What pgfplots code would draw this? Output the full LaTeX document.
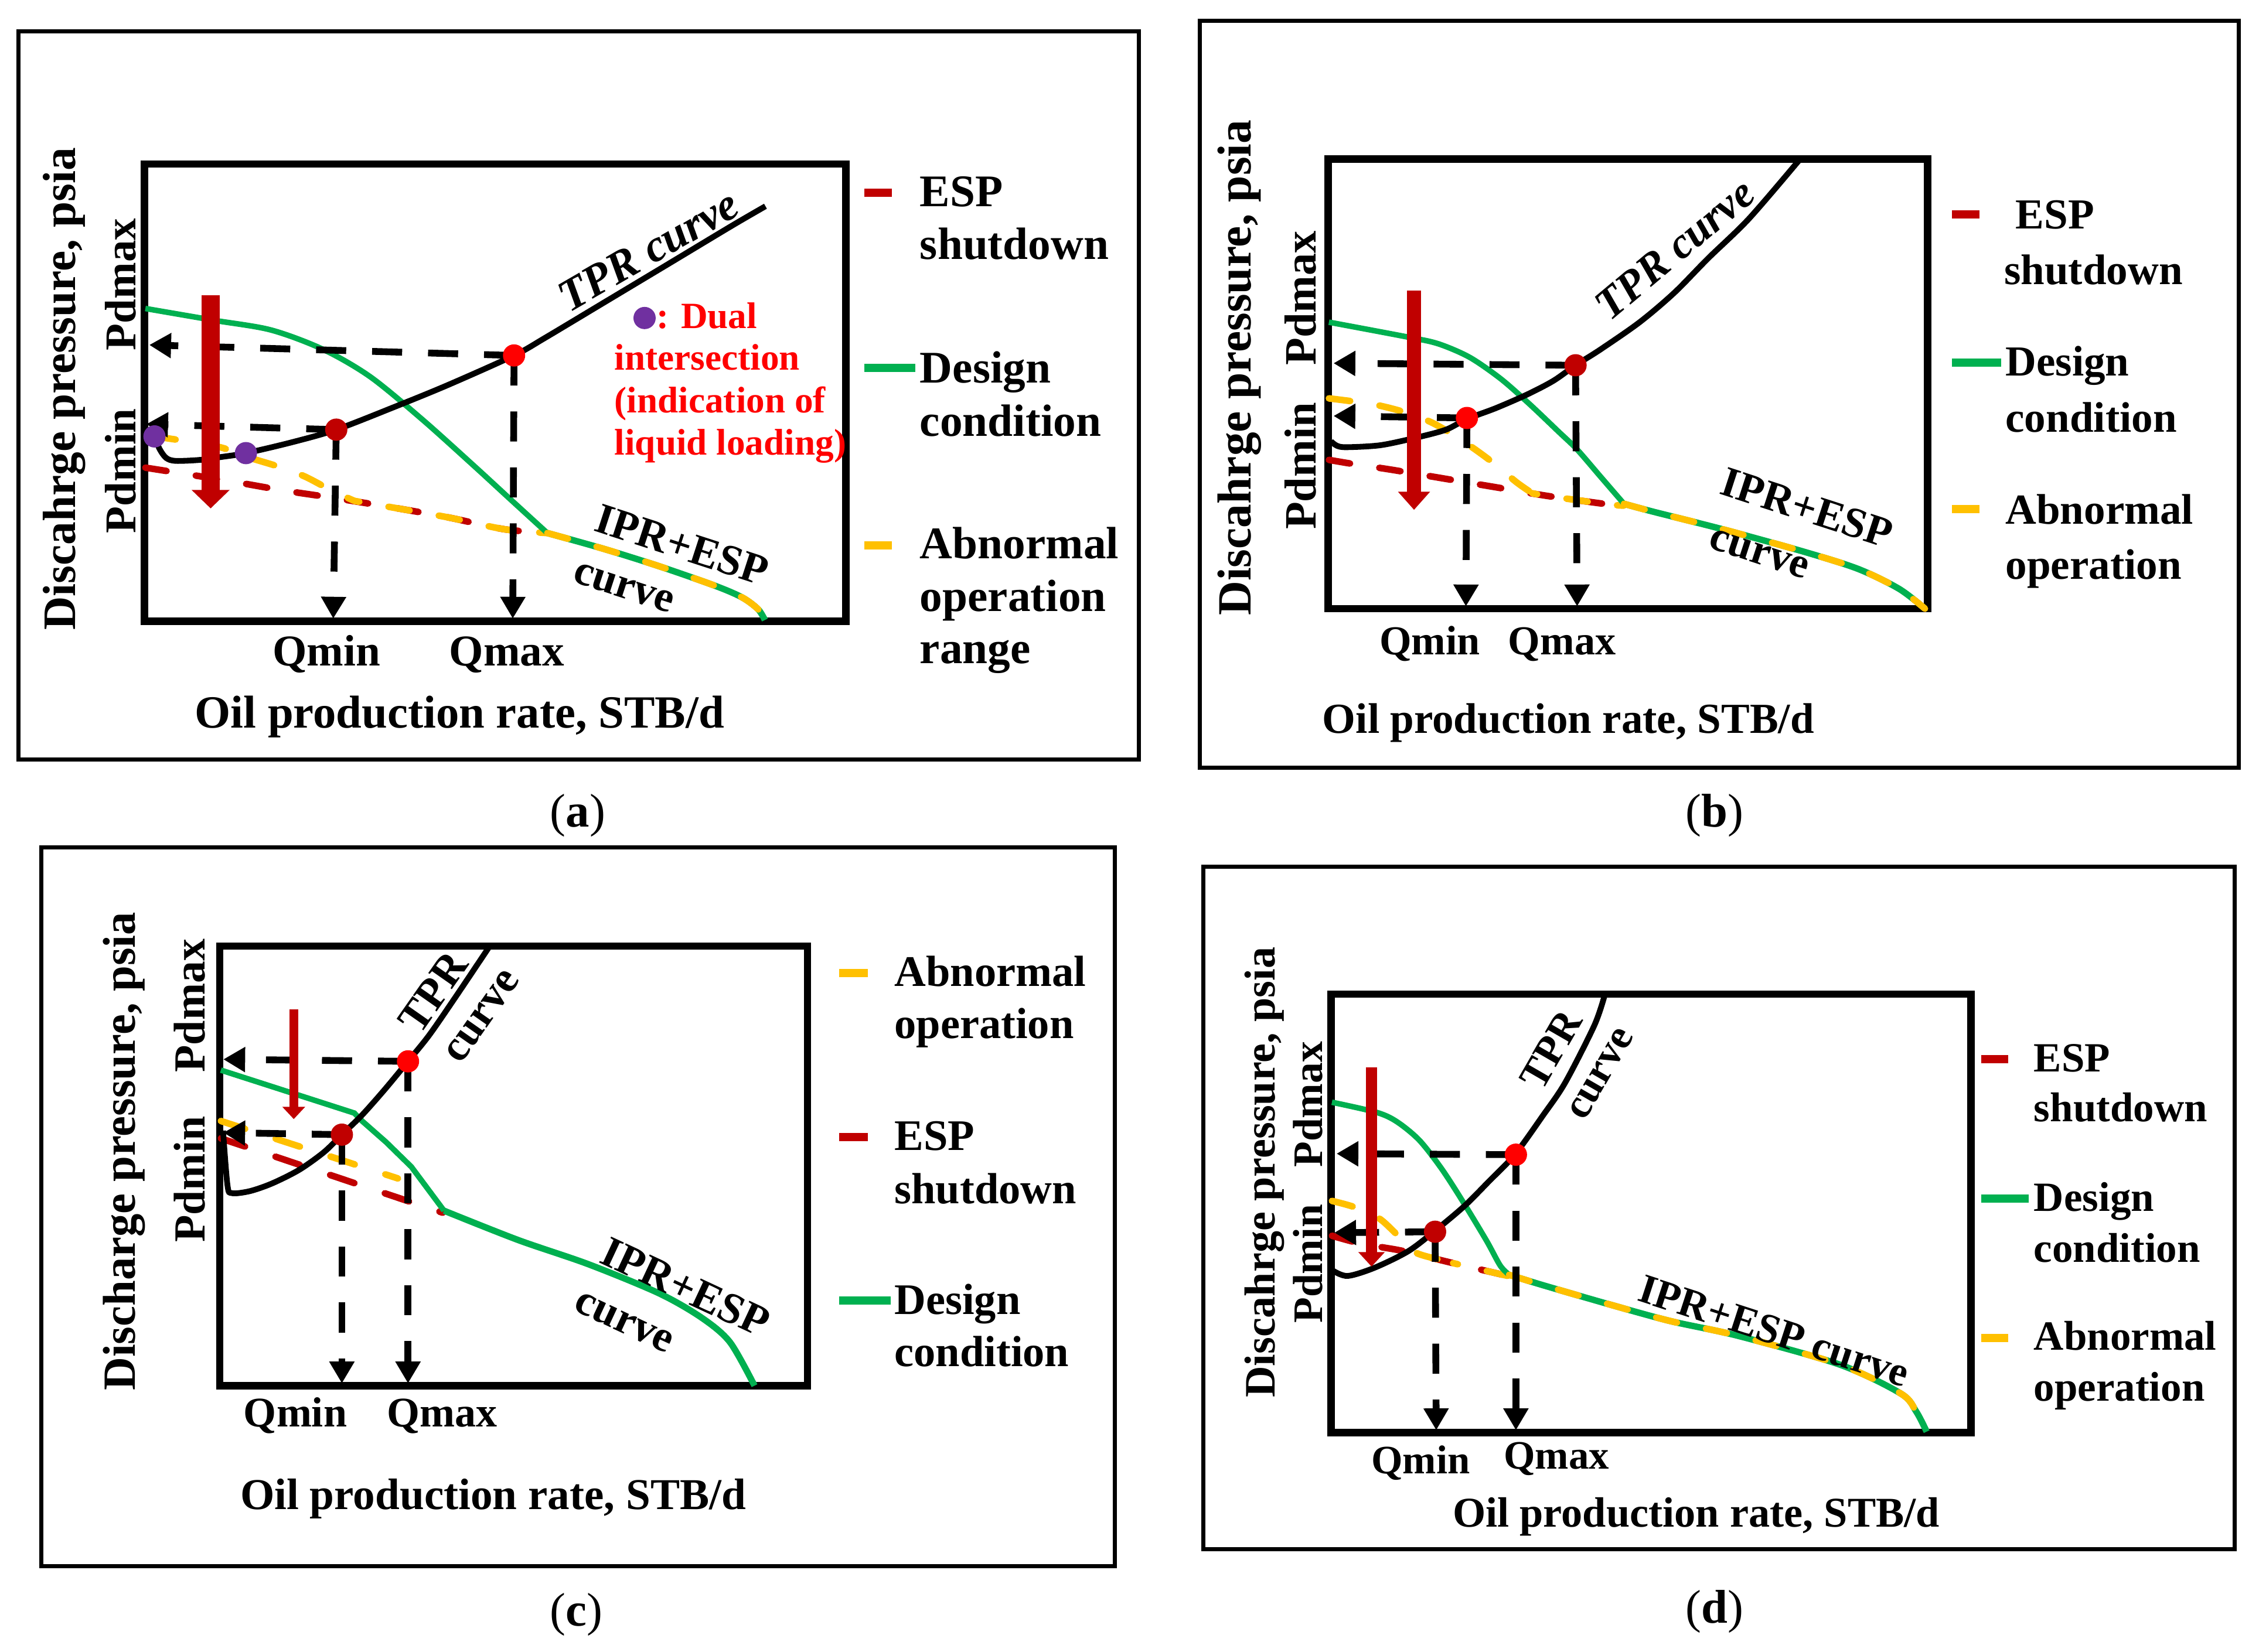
\documentclass[border=0pt]{standalone}
\usepackage{fontspec}
\setmainfont{Liberation Serif}
\usepackage{pgfplots}
\pgfplotsset{compat=1.18}
\usetikzlibrary{arrows.meta}
\definecolor{cgreen}{HTML}{00B050}
\definecolor{cgold}{HTML}{FFC000}
\definecolor{cdred}{HTML}{C00000}
\definecolor{cpurple}{HTML}{7030A0}
\definecolor{cred}{HTML}{FF0000}
\newcommand{\T}[1]{\fontsize{#1}{#1}\selectfont\bfseries}
\tikzset{lab/.style={inner sep=0pt}}
\pgfplotsset{
  schem/.style={scale only axis, clip=false, anchor=south west,
    axis line style={line width=1.8pt}, xtick=\empty, ytick=\empty},
  dashy/.style={line width=1.6pt, dash pattern=on 5.2pt off 7.2pt, line cap=round},
  darr/.style={black, line width=1.65pt, dash pattern=on 7.3pt off 6.3pt, -{Triangle[length=5.3pt,width=5.8pt]}},
  tpr/.style={black, line width=1.4pt, smooth},
  des/.style={cgreen, line width=1.35pt, smooth},
  ipr/.style={cgreen, line width=1.55pt, smooth},
  leg/.style={line width=2pt},
  dot/.style={only marks, mark=*, mark size=2.5pt},
}
\begin{document}
\begin{tikzpicture}
\useasboundingbox (0,0) rectangle (548.8pt,-401.45pt);

%================ (a) =================
\begin{axis}[schem, at={(35.07pt,-150.955pt)}, width=170.45pt, height=111.09pt,
  xmin=100.2, xmax=587.2, ymin=-431.3, ymax=-113.9]
\draw[line width=1pt] (axis cs:12.7,-21.7) rectangle (axis cs:790.6,-527.2);
\addplot[cdred, dashy, smooth] coordinates {(100.9,-324.7) (157,-333.6) (195.3,-340.3) (231.4,-345.7) (273.3,-352.5) (311.4,-359.3) (349.6,-367.4) (379.9,-370.1)};
\addplot[cgold, dashy, smooth] coordinates {(107.2,-303) (139,-307.8) (155.3,-311.2) (171.6,-317.3) (193.4,-324) (211.5,-330.8) (229.7,-340.3) (246,-347.8)};
\addplot[cgold, dashy, smooth, dash phase=4pt] coordinates {(246,-347.8) (273.3,-352.5) (311.4,-359.3) (349.6,-367.4) (379.9,-370.1)};
\addplot[des] coordinates {(100.9,-214.2) (148,-222.3) (188,-229.1) (224.3,-242.6) (257,-261.6) (293.3,-291.4) (329.6,-324) (353.2,-345.7) (379.9,-370.1)};
\addplot[ipr] coordinates {(379.9,-370.1) (418.8,-381) (457.7,-393.2) (496.6,-406.8) (515.3,-414.9) (526.2,-423) (530.9,-430.5)};
\addplot[cgold, dashy, smooth] coordinates {(379.9,-370.1) (418.8,-381) (457.7,-393.2) (496.6,-406.8) (515.3,-414.9) (526.2,-423) (530.9,-430.5)};
\addplot[tpr] coordinates {(107.2,-303) (110.8,-311.8) (115.4,-318) (122,-320) (139,-319.3) (153.5,-317.3) (170.7,-314.6) (202.5,-307.1) (233.4,-298.3) (275.1,-282) (311.4,-267.1) (356.8,-246.8) (378.3,-234.6) (420,-209.6) (465,-182.6) (508.4,-156.5) (531.3,-143.2)};
\addplot[darr] coordinates {(356.8,-246.8) (103.6,-239.5)};
\addplot[darr] coordinates {(233.4,-298.3) (101.5,-294.5)};
\addplot[darr] coordinates {(233.4,-298.3) (231.3,-429.5)};
\addplot[darr] coordinates {(356.8,-246.8) (355.9,-429.5)};
\addplot[cdred, line width=4.4pt, -{Triangle[length=4.5pt,width=9pt]}] coordinates {(146.2,-205.1) (146.2,-353)};
\addplot[dot, cpurple] coordinates {(107.2,-303) (170.7,-314.6) (447.4,-220.8)};
\addplot[dot, cdred] coordinates {(233.4,-298.3)};
\addplot[dot, cred] coordinates {(356.8,-246.8)};
% legend
\addplot[leg, cdred] coordinates {(600,-133.9) (619,-133.9)};
\addplot[leg, cgreen] coordinates {(600,-255.3) (635.5,-255.3)};
\addplot[leg, cgold] coordinates {(600,-378.5) (619,-378.5)};
\node[lab, anchor=base west, font=\T{11}] at (axis cs:638,-143.2) {ESP};
\node[lab, anchor=base west, font=\T{11}] at (axis cs:638,-180) {shutdown};
\node[lab, anchor=base west, font=\T{11}] at (axis cs:638,-265.7) {Design};
\node[lab, anchor=base west, font=\T{11}] at (axis cs:638,-303) {condition};
\node[lab, anchor=base west, font=\T{11}] at (axis cs:638,-388) {Abnormal};
\node[lab, anchor=base west, font=\T{11}] at (axis cs:638,-424.4) {operation};
\node[lab, anchor=base west, font=\T{11}] at (axis cs:638,-460.6) {range};
% labels
\node[lab, anchor=base, font=\T{10.7}] at (axis cs:226.7,-462.3) {Qmin};
\node[lab, anchor=base, font=\T{10.7}] at (axis cs:351.8,-462.3) {Qmax};
\node[lab, anchor=base, font=\T{11.2}] at (axis cs:319,-505.4) {Oil production rate, STB/d};
\node[lab, anchor=base, rotate=90, font=\T{11.3}] at (axis cs:52.4,-270) {Discahrge pressure, psia};
\node[lab, anchor=base, rotate=90, font=\T{10.7}] at (axis cs:94,-197.5) {Pdmax};
\node[lab, anchor=base, rotate=90, font=\T{10.7}] at (axis cs:94,-326.9) {Pdmin};
\node[lab, rotate=30, font=\T{11}\itshape] at (axis cs:450,-174) {TPR curve};
\node[lab, rotate=-18, font=\T{10.5}] at (axis cs:473.3,-378.3) {IPR+ESP};
\node[lab, rotate=-18, font=\T{10.5}] at (axis cs:432.8,-408.1) {curve};
\node[lab, anchor=base west, text=cred, font=\T{9}] at (axis cs:455,-228) {: Dual};
\node[lab, anchor=base west, text=cred, font=\T{9}] at (axis cs:426,-257) {intersection};
\node[lab, anchor=base west, text=cred, font=\T{9}] at (axis cs:426,-286.5) {(indication of};
\node[lab, anchor=base west, text=cred, font=\T{9}] at (axis cs:426,-316) {liquid loading)};
\node[lab, anchor=base, font=\fontsize{11.5}{11.5}\selectfont] at (axis cs:401,-574) {(\textbf{a})};
\end{axis}

%================ (b) =================
\begin{axis}[schem, at={(322.63pt,-147.91pt)}, width=145.67pt, height=109.27pt,
  xmin=921.8, xmax=1338, ymin=-422.6, ymax=-110.4]
\draw[line width=1pt] (axis cs:832.8,-14.5) rectangle (axis cs:1553.9,-533);
\addplot[cdred, dashy, smooth] coordinates {(922.4,-319.3) (938.3,-322) (965.6,-326.1) (1001.9,-332.2) (1038.2,-338.3) (1074.5,-344.4) (1116.3,-350.2) (1127.2,-351)};
\addplot[cgold, dashy, smooth] coordinates {(922.4,-276.6) (938.3,-278.6) (956.5,-281.4) (974.7,-286.1) (992.8,-292.9) (1007.3,-301) (1023.7,-311.9) (1038.2,-322.7) (1052.7,-334.9) (1063.6,-342.5)};
\addplot[cgold, dashy, smooth, dash phase=4pt] coordinates {(1063.6,-342.5) (1074.5,-344.4) (1116.3,-350.2) (1127.2,-351)};
\addplot[des] coordinates {(922.4,-223.7) (976.5,-233.9) (998.3,-238.7) (1020.1,-248.1) (1041.8,-263.1) (1061.8,-280.7) (1081.8,-299.7) (1094.5,-311.9) (1110.9,-330.9) (1127.2,-349.8)};
\addplot[ipr] coordinates {(1127.2,-349.8) (1147.2,-355.2) (1195.8,-367.5) (1251.9,-383) (1289.7,-395) (1318.1,-408.8) (1336.1,-422.6)};
\addplot[cgold, dashy, smooth] coordinates {(1127.2,-349.8) (1147.2,-355.2) (1195.8,-367.5) (1251.9,-383) (1289.7,-395) (1318.1,-408.8) (1336.1,-422.6)};
\addplot[tpr] coordinates {(923.8,-306.4) (928,-309.5) (934.7,-310.5) (958.3,-309.1) (983.7,-303.7) (1003.7,-298.3) (1018.2,-290.9) (1038.2,-283.4) (1060,-273.9) (1078.2,-264.4) (1093.6,-253.6) (1110.8,-242.7) (1138.1,-223.7) (1162,-203.4) (1185.6,-179.4) (1214,-151.8) (1249.5,-110.4)};
\addplot[darr] coordinates {(1093.6,-253.6) (925.6,-252.2)};
\addplot[darr] coordinates {(1018.2,-290.2) (925.6,-288.8)};
\addplot[darr] coordinates {(1018.2,-290.2) (1017.5,-421)};
\addplot[darr] coordinates {(1093.6,-253.6) (1094.7,-421)};
\addplot[cdred, line width=3.5pt, -{Triangle[length=4.4pt,width=7.5pt]}] coordinates {(981.5,-201.8) (981.5,-354)};
\addplot[dot, cred] coordinates {(1018.2,-290.2)};
\addplot[dot, cdred] coordinates {(1093.6,-253.6)};
\addplot[leg, cdred] coordinates {(1355,-149) (1374,-149)};
\addplot[leg, cgreen] coordinates {(1355,-251.9) (1389,-251.9)};
\addplot[leg, cgold] coordinates {(1355,-353.6) (1374,-353.6)};
\node[lab, anchor=base west, font=\T{10.4}] at (axis cs:1398.6,-158.7) {ESP};
\node[lab, anchor=base west, font=\T{10.4}] at (axis cs:1390.6,-197.3) {shutdown};
\node[lab, anchor=base west, font=\T{10.4}] at (axis cs:1391.5,-261) {Design};
\node[lab, anchor=base west, font=\T{10.4}] at (axis cs:1391.5,-300) {condition};
\node[lab, anchor=base west, font=\T{10.4}] at (axis cs:1391.5,-364) {Abnormal};
\node[lab, anchor=base west, font=\T{10.4}] at (axis cs:1391.5,-402) {operation};
\node[lab, anchor=base, font=\T{10}] at (axis cs:992.4,-454.7) {Qmin};
\node[lab, anchor=base, font=\T{10}] at (axis cs:1084.2,-454.7) {Qmax};
\node[lab, anchor=base, font=\T{10.4}] at (axis cs:1088.6,-508.9) {Oil production rate, STB/d};
\node[lab, anchor=base, rotate=90, font=\T{11.6}] at (axis cs:868.3,-255.3) {Discahrge pressure, psia};
\node[lab, anchor=base, rotate=90, font=\T{10.9}] at (axis cs:913.3,-207) {Pdmax};
\node[lab, anchor=base, rotate=90, font=\T{10.9}] at (axis cs:913.3,-323.5) {Pdmin};
\node[lab, rotate=40, font=\T{10.6}\itshape] at (axis cs:1162.5,-173) {TPR curve};
\node[lab, rotate=-18, font=\T{10.4}] at (axis cs:1254.2,-352.6) {IPR+ESP};
\node[lab, rotate=-18, font=\T{10.4}] at (axis cs:1221,-384.7) {curve};
\node[lab, anchor=base, font=\fontsize{11.5}{11.5}\selectfont] at (axis cs:1190,-574) {(\textbf{b})};
\end{axis}

%================ (c) =================
\begin{axis}[schem, at={(53.41pt,-336.735pt)}, width=142.77pt, height=106.82pt,
  xmin=152.6, xmax=560.5, ymin=-962.1, ymax=-656.9]
\draw[line width=1pt] (axis cs:28.5,-588.4) rectangle (axis cs:773.8,-1087.6);
\addplot[cdred, dashy, dash pattern=on 6.2pt off 7.8pt] coordinates {(153.3,-790.4) (307.3,-842)};
\addplot[cgold, dashy, dash pattern=on 6.2pt off 7.8pt] coordinates {(153.3,-778.3) (276.2,-818.2)};
\addplot[cgreen, line width=1.35pt] coordinates {(153.3,-743) (245.9,-772.8) (251.3,-778.3) (268,-793) (285.5,-810.1) (308.2,-840.6)};
\addplot[ipr] coordinates {(308.2,-840.6) (359.5,-860.9) (408.5,-877.8) (457.5,-898) (487,-914.9) (506.6,-931.8) (523.7,-962.1)};
\addplot[tpr] coordinates {(154.8,-785) (157.9,-823) (161,-828.4) (173.5,-827) (189,-821.6) (207.7,-812.2) (224.8,-800) (237.3,-787.8) (251.3,-774.2) (266.9,-756.6) (283.2,-736.9) (298,-718.6) (316.7,-691.5) (339.9,-656.9)};
\addplot[darr] coordinates {(283.2,-736.9) (155,-735.5)};
\addplot[darr] coordinates {(237.3,-787.8) (155,-786.4)};
\addplot[darr] coordinates {(237.3,-787.8) (237.3,-960.5)};
\addplot[darr] coordinates {(283.2,-736.9) (283.2,-960.5)};
\addplot[cdred, line width=2.2pt, -{Triangle[length=3pt,width=5.4pt]}] coordinates {(203.9,-701) (203.9,-777)};
\addplot[dot, cdred] coordinates {(237.3,-787.8)};
\addplot[dot, cred] coordinates {(283.2,-736.9)};
\addplot[leg, cgold] coordinates {(582.6,-675.4) (602.2,-675.4)};
\addplot[leg, cdred] coordinates {(582.6,-789.4) (602.2,-789.4)};
\addplot[leg, cgreen] coordinates {(582.6,-903.1) (618.4,-903.1)};
\node[lab, anchor=base west, font=\T{10.6}] at (axis cs:620.3,-684.9) {Abnormal};
\node[lab, anchor=base west, font=\T{10.6}] at (axis cs:620.3,-721) {operation};
\node[lab, anchor=base west, font=\T{10.6}] at (axis cs:620.3,-798.5) {ESP};
\node[lab, anchor=base west, font=\T{10.6}] at (axis cs:620.3,-835.6) {shutdown};
\node[lab, anchor=base west, font=\T{10.6}] at (axis cs:620.3,-912.5) {Design};
\node[lab, anchor=base west, font=\T{10.6}] at (axis cs:620.3,-948.6) {condition};
\node[lab, anchor=base, font=\T{10.25}] at (axis cs:205,-990.8) {Qmin};
\node[lab, anchor=base, font=\T{10.25}] at (axis cs:307,-990.8) {Qmax};
\node[lab, anchor=base, font=\T{10.7}] at (axis cs:342.3,-1048.1) {Oil production rate, STB/d};
\node[lab, anchor=base, rotate=90, font=\T{11.2}] at (axis cs:93.7,-799.4) {Discharge pressure, psia};
\node[lab, anchor=base, rotate=90, font=\T{10.8}] at (axis cs:142.3,-698.2) {Pdmax};
\node[lab, anchor=base, rotate=90, font=\T{10.8}] at (axis cs:142.3,-818.8) {Pdmin};
\node[lab, rotate=55, font=\T{10.6}] at (axis cs:300.6,-688.9) {TPR};
\node[lab, rotate=55, font=\T{10.6}] at (axis cs:335,-705.8) {curve};
\node[lab, rotate=-25, font=\T{10.6}] at (axis cs:475.7,-893.6) {IPR+ESP};
\node[lab, rotate=-25, font=\T{10.6}] at (axis cs:433,-918.3) {curve};
\node[lab, anchor=base, font=\fontsize{11.5}{11.5}\selectfont] at (axis cs:400,-1129) {(\textbf{c})};
\end{axis}

%================ (d) =================
\begin{axis}[schem, at={(323.4pt,-348.11pt)}, width=155.4pt, height=106.5pt,
  xmin=924, xmax=1368, ymin=-994.6, ymax=-690.3]
\draw[line width=1pt] (axis cs:835.4,-601.6) rectangle (axis cs:1551,-1075.5);
\addplot[cdred, dashy, smooth] coordinates {(924.5,-858) (940.1,-862.3) (958.8,-865.9) (974.3,-868.7) (1008.6,-877) (1042.8,-885) (1047.5,-886)};
\addplot[cgold, dashy, smooth] coordinates {(924.5,-833.8) (940.1,-838.1) (957.2,-845.9) (971.2,-858.7) (983.7,-870.2) (1008.6,-876.5)};
\addplot[cgold, dashy, smooth, dash phase=4pt] coordinates {(1008.6,-877) (1042.8,-885) (1047.5,-886)};
\addplot[des] coordinates {(924.5,-765.3) (955.7,-772.4) (969.7,-778.9) (985.2,-791.7) (1000.8,-811.7) (1016.4,-835.9) (1031.9,-861.6) (1041.3,-878.7) (1047.5,-885.1)};
\addplot[ipr] coordinates {(1047.5,-885.1) (1070.9,-892.3) (1117.6,-905.8) (1159.3,-917.2) (1206.4,-927.5) (1277.1,-947.5) (1319.4,-967.6) (1330,-980) (1337.3,-994)};
\addplot[cgold, dashy, smooth] coordinates {(1047.5,-885.1) (1070.9,-892.3) (1117.6,-905.8) (1159.3,-917.2) (1206.4,-927.5) (1277.1,-947.5) (1319.4,-967.6) (1330,-980) (1337.3,-994)};
\addplot[tpr] coordinates {(925.3,-882.3) (935.4,-885.9) (954.1,-880.2) (977.5,-868.7) (996.1,-854.5) (1016.4,-837.4) (1033.5,-820.2) (1051.4,-801.7) (1070.9,-774.6) (1086.4,-751.7) (1106.7,-711.8) (1114,-690.3)};
\addplot[darr] coordinates {(1052.2,-801.7) (927.7,-801)};
\addplot[darr] coordinates {(996.1,-855.2) (926.1,-855.9)};
\addplot[darr] coordinates {(996.1,-855.2) (996.9,-993)};
\addplot[darr] coordinates {(1052.2,-801.7) (1052.2,-993)};
\addplot[cdred, line width=2.8pt, -{Triangle[length=3.5pt,width=6.2pt]}] coordinates {(952,-741) (952,-879.4)};
\addplot[dot, cdred] coordinates {(996.1,-855.2)};
\addplot[dot, cred] coordinates {(1052.2,-801.7)};
\addplot[leg, cdred] coordinates {(1375,-735.5) (1393.8,-735.5)};
\addplot[leg, cgreen] coordinates {(1375,-832) (1408,-832)};
\addplot[leg, cgold] coordinates {(1375,-928.8) (1393.8,-928.8)};
\node[lab, anchor=base west, font=\T{10.1}] at (axis cs:1411.2,-744) {ESP};
\node[lab, anchor=base west, font=\T{10.1}] at (axis cs:1411.2,-778.7) {shutdown};
\node[lab, anchor=base west, font=\T{10.1}] at (axis cs:1411.2,-841) {Design};
\node[lab, anchor=base west, font=\T{10.1}] at (axis cs:1411.2,-876.5) {condition};
\node[lab, anchor=base west, font=\T{10.1}] at (axis cs:1411.2,-937.2) {Abnormal};
\node[lab, anchor=base west, font=\T{10.1}] at (axis cs:1411.2,-972.6) {operation};
\node[lab, anchor=base, font=\T{9.8}] at (axis cs:986.1,-1023.2) {Qmin};
\node[lab, anchor=base, font=\T{9.8}] at (axis cs:1080.3,-1019.9) {Qmax};
\node[lab, anchor=base, font=\T{10.3}] at (axis cs:1177.3,-1060.3) {Oil production rate, STB/d};
\node[lab, anchor=base, rotate=90, font=\T{10.55}] at (axis cs:884.9,-814) {Discahrge pressure, psia};
\node[lab, anchor=base, rotate=90, font=\T{10.2}] at (axis cs:917.8,-766.8) {Pdmax};
\node[lab, anchor=base, rotate=90, font=\T{10.2}] at (axis cs:917.8,-877.4) {Pdmin};
\node[lab, rotate=60, font=\T{10.1}] at (axis cs:1076.5,-728.8) {TPR};
\node[lab, rotate=60, font=\T{10.1}] at (axis cs:1111.3,-745.6) {curve};
\node[lab, rotate=-18, font=\T{10.1}] at (axis cs:1231.5,-924) {IPR+ESP curve};
\node[lab, anchor=base, font=\fontsize{11.5}{11.5}\selectfont] at (axis cs:1190,-1127) {(\textbf{d})};
\end{axis}
\end{tikzpicture}
\end{document}
